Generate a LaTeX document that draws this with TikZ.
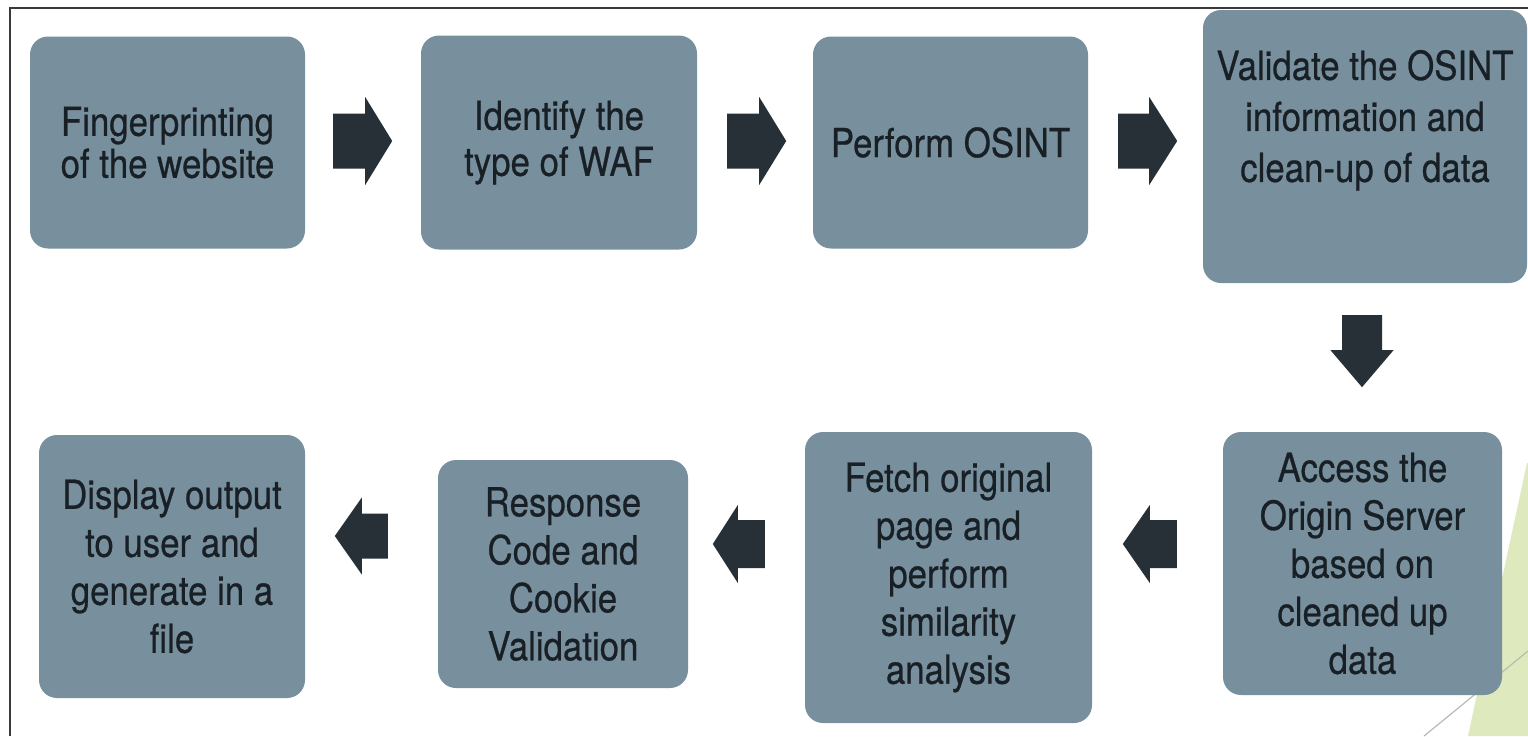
\documentclass[tikz,border=0pt]{standalone}
\usepackage{fontspec}
\setmainfont{TeX Gyre Heros}[FakeStretch=0.87, FakeBold=0.6]
\usetikzlibrary{calc}

\definecolor{boxfill}{HTML}{788F9E}
\definecolor{textdark}{HTML}{182026}
\definecolor{arrowdark}{HTML}{263036}
\definecolor{framegray}{HTML}{3A3A3A}
\definecolor{accentgreen}{HTML}{DFE9BE}
\definecolor{accentline}{HTML}{B9BBB5}

\tikzset{
  stepbox/.style={fill=boxfill, rounded corners=18pt, inner sep=0pt,
    align=center, text=textdark, font=\fontsize{40}{48}\selectfont},
  steptext/.style={inner sep=0pt, align=center, text=textdark},
  pics/blockarrow/.style args={#1/#2/#3/#4}{code={
    % shaft length / head length / shaft half-width / head half-width
    \fill[arrowdark] (0,-#3) -- (#1,-#3) -- (#1,-#4) -- ({#1+#2},0)
      -- (#1,#4) -- (#1,#3) -- (0,#3) -- cycle;
  }},
}

\begin{document}
\begin{tikzpicture}[x=1pt, y=-1pt]
  \useasboundingbox (0,0) rectangle (1528,736);
  \fill[white] (0,0) rectangle (1528,736);

  % slide decoration in the lower right corner
  \fill[accentgreen] (1527,463) -- (1468,736) -- (1528,736) -- (1528,463) -- cycle;
  \draw[accentline, line width=1.2pt] (1528,651) -- (1424,736);

  % frame
  \draw[framegray, line width=2.6pt] (10,736) -- (10,8) -- (1528,8);

  % upper row of steps
  \node[stepbox, minimum width=275pt, minimum height=212pt,
        font=\fontsize{40}{42}\selectfont] (b1) at (167.5,142.5)
        {Fingerprinting\\of the website};
  \node[stepbox, minimum width=276pt, minimum height=214pt,
        font=\fontsize{40}{46}\selectfont] (b2) at (559,142.5)
        {Identify the\\type of WAF};
  \node[stepbox, minimum width=275pt, minimum height=212pt] (b3) at (950.5,142.5)
        {Perform OSINT};
  \node[stepbox, minimum width=324pt, minimum height=273pt,
        label={[steptext, anchor=north, yshift=-40pt,
                font=\fontsize{40}{51}\selectfont]north:{Validate the OSINT\\information and\\clean-up of data}}]
        (b4) at (1365,146.5) {};

  % lower row of steps
  \node[stepbox, minimum width=279pt, minimum height=263pt] (b5) at (1362.5,563.5)
        {Access the\\Origin Server\\based on\\cleaned up\\data};
  \node[stepbox, minimum width=287pt, minimum height=291pt] (b6) at (948.5,577.5)
        {Fetch original\\page and\\perform\\similarity\\analysis};
  \node[stepbox, minimum width=250pt, minimum height=228pt] (b7) at (563,574)
        {Response\\Code and\\Cookie\\Validation};
  \node[stepbox, minimum width=266pt, minimum height=263pt] (b8) at (172,566.5)
        {Display output\\to user and\\generate in a\\file};

  % block arrows between the steps
  \pic at ($(b1.east)+(28,-1.5)$) {blockarrow=32/27/27.5/44};
  \pic at ($(b2.east)+(30,-1.5)$) {blockarrow=32/27/27.5/44};
  \pic at ($(b3.east)+(30,-1.5)$) {blockarrow=31/28/27.5/44};
  \pic[rotate=-90] at ($(b4.south)+(-3,32)$) {blockarrow=35/37/20/31.5};
  \pic[rotate=180] at ($(b5.west)+(-46,-19.5)$) {blockarrow=27/27/24/39};
  \pic[rotate=180] at ($(b6.west)+(-40,-33.5)$) {blockarrow=27/25/24/39};
  \pic[rotate=180] at ($(b7.west)+(-50,-38)$) {blockarrow=26/27/22.5/38.5};
\end{tikzpicture}
\end{document}
